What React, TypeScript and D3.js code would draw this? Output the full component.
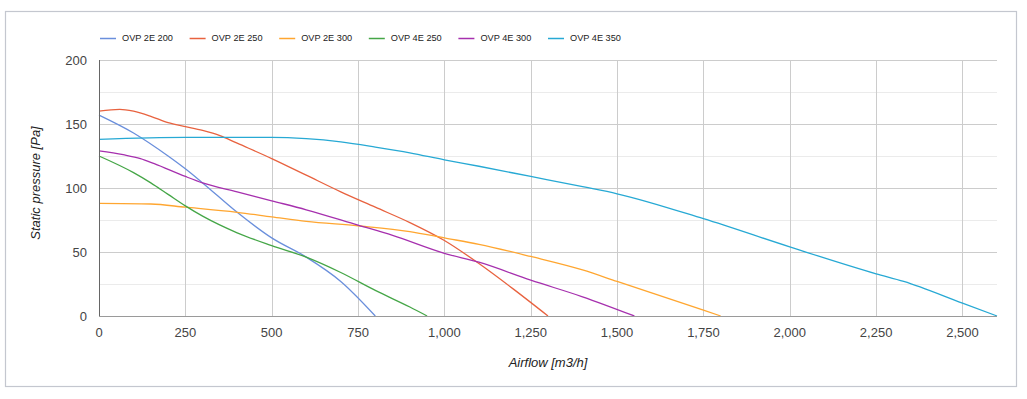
import React from "react";
import * as d3 from "d3";

const seriesNames = ["OVP 2E 200", "OVP 2E 250", "OVP 2E 300", "OVP 4E 250", "OVP 4E 300", "OVP 4E 350"];
const seriesColors = ["#6a8fdc", "#e8623f", "#ffa630", "#45a647", "#a630ae", "#27a9d4"];

const flow2E200 = [0, 100, 200, 250, 300, 400, 500, 600, 700, 800];
const pres2E200 = [157, 143, 125, 115, 104, 81, 61, 46, 27, 0];

const flow2E250 = [0, 60, 100, 150, 200, 250, 300, 350, 400, 500, 600, 700, 800, 900, 1000, 1100, 1200, 1300];
const pres2E250 = [160, 161.5, 160, 156, 151, 148, 145, 141, 135, 123, 110, 97, 85, 73, 59, 41, 21, 0];

const flow2E300 = [0, 150, 250, 400, 500, 600, 750, 900, 1000, 1100, 1250, 1400, 1500, 1600, 1700, 1800];
const pres2E300 = [88, 87.5, 85, 81, 77.5, 74, 70.5, 66, 61, 56, 46.5, 36, 27, 18, 9, 0];

const flow4E250 = [0, 100, 150, 200, 250, 300, 400, 500, 600, 700, 800, 900, 950];
const pres4E250 = [125, 112, 104, 95, 86, 78, 65, 55, 46, 34, 20, 7, 0];

const flow4E300 = [0, 70, 120, 160, 250, 300, 400, 500, 600, 750, 850, 1000, 1100, 1250, 1400, 1550];
const pres4E300 = [129, 126, 123, 119, 109, 104, 97, 90, 83, 71, 63, 49, 42, 28, 15, 0];

const flow4E350 = [0, 250, 500, 600, 700, 800, 900, 1000, 1100, 1250, 1400, 1500, 1750, 2000, 2250, 2330, 2500, 2600];
const pres4E350 = [138, 139.5, 139.5, 138.5, 136, 132, 127.5, 122, 117, 109, 101, 95.5, 76, 54, 33, 27, 10, 0];

const flows = [flow2E200, flow2E250, flow2E300, flow4E250, flow4E300, flow4E350];
const pressures = [pres2E200, pres2E250, pres2E300, pres4E250, pres4E300, pres4E350];

const xTicks = [0, 250, 500, 750, 1000, 1250, 1500, 1750, 2000, 2250, 2500];
const yTicks = [0, 50, 100, 150, 200];
const yMinorTicks = [25, 75, 125, 175];

const W = 1027;
const H = 399;
const left = 99;
const right = 997;
const top = 60;
const bottom = 316;
const font = "Arial, 'Liberation Sans', sans-serif";

export default function App() {
  const x = d3.scaleLinear().domain([0, 2600]).range([left, right]);
  const y = d3.scaleLinear().domain([0, 200]).range([bottom, top]);
  const line = d3
    .line<[number, number]>()
    .x((d) => x(d[0]))
    .y((d) => y(d[1]))
    .curve(d3.curveMonotoneX);
  const fmt = d3.format(",");

  return (
    <svg width={W} height={H} style={{ position: "absolute", left: 0, top: 0, background: "#fff" }}>
      <rect x={5.5} y={11.5} width={1011} height={375} fill="#fff" stroke="#c4c7cf" strokeWidth={1.2} />
      {yMinorTicks.map((t) => (
        <line key={"ym" + t} x1={left} x2={right} y1={Math.round(y(t)) + 0.5} y2={Math.round(y(t)) + 0.5} stroke="#ebebeb" strokeWidth={1} />
      ))}
      {yTicks.filter((t) => t > 0).map((t) => (
        <line key={"yg" + t} x1={left} x2={right} y1={Math.round(y(t)) + 0.5} y2={Math.round(y(t)) + 0.5} stroke="#cccccc" strokeWidth={1} />
      ))}
      {xTicks.filter((t) => t > 0).map((t) => (
        <line key={"xg" + t} x1={Math.round(x(t)) + 0.5} x2={Math.round(x(t)) + 0.5} y1={top} y2={bottom} stroke="#cccccc" strokeWidth={1} />
      ))}
      {flows.map((fx, i) => (
        <path
          key={seriesNames[i]}
          d={line(fx.map((v, j) => [v, pressures[i][j]] as [number, number])) || ""}
          fill="none"
          stroke={seriesColors[i]}
          strokeWidth={1.3}
        />
      ))}
      <line x1={left} x2={right} y1={bottom + 0.5} y2={bottom + 0.5} stroke="#9a9a9a" strokeWidth={1.2} />
      <line x1={left + 0.5} x2={left + 0.5} y1={top} y2={bottom} stroke="#666666" strokeWidth={1} />
      {yTicks.map((t) => (
        <text key={"yt" + t} x={87} y={y(t)} dy="0.36em" textAnchor="end" fontFamily={font} fontSize={13} fill="#444">
          {fmt(t)}
        </text>
      ))}
      {xTicks.map((t) => (
        <text key={"xt" + t} x={x(t)} y={bottom + 21} textAnchor="middle" fontFamily={font} fontSize={13} fill="#444">
          {fmt(t)}
        </text>
      ))}
      <text x={(left + right) / 2} y={367} textAnchor="middle" fontFamily={font} fontSize={13} fontStyle="italic" fill="#222">
        Airflow [m3/h]
      </text>
      <text
        transform={`translate(40,${(top + bottom) / 2 - 5}) rotate(-90)`}
        textAnchor="middle"
        fontFamily={font}
        fontSize={13}
        fontStyle="italic"
        fill="#222"
      >
        Static pressure [Pa]
      </text>
      {seriesNames.map((n, i) => {
        const x0 = 100 + i * 89.6;
        return (
          <g key={"lg" + n}>
            <line x1={x0} x2={x0 + 16} y1={38.5} y2={38.5} stroke={seriesColors[i]} strokeWidth={1.5} />
            <text x={x0 + 22} y={38} dy="0.36em" fontFamily={font} fontSize={9.2} fill="#222">
              {n}
            </text>
          </g>
        );
      })}
    </svg>
  );
}
